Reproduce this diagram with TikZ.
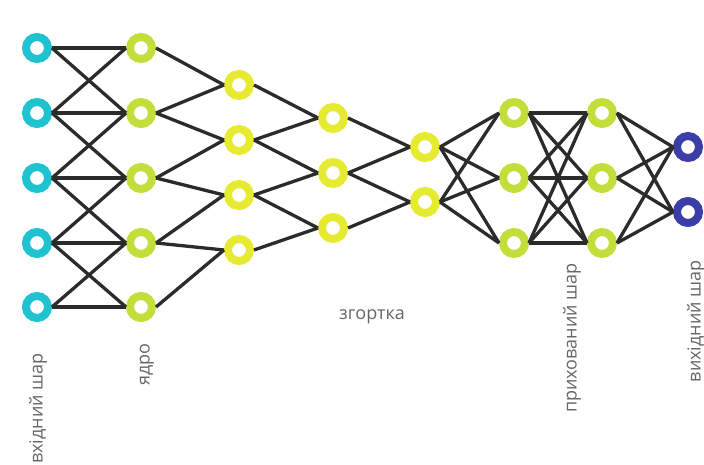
\documentclass[tikz,border=0pt]{standalone}
\usepackage{fontspec}
\setmainfont{Open Sans}
\definecolor{cyanc}{HTML}{1EC3CF}
\definecolor{limec}{HTML}{C3DE3A}
\definecolor{yelc}{HTML}{E6EA30}
\definecolor{bluec}{HTML}{3D3DA8}
\definecolor{linkc}{HTML}{2B2B2B}
\definecolor{lblc}{HTML}{666666}
\begin{document}
\begin{tikzpicture}[x=1pt,y=-1pt,
  neuron/.style={circle, draw=#1, line width=8pt, minimum size=22pt, inner sep=0pt, fill=white},
  link/.style={draw=linkc, line width=3.3pt},
  lbl/.style={font=\fontsize{18}{20}\selectfont, text=lblc, inner sep=0pt}]
\useasboundingbox (0,0) rectangle (704,465);
% layer 1 (input)
\foreach \i/\y in {1/48,2/113,3/178,4/243,5/307} {
  \node[neuron=cyanc] (a\i) at (37,\y) {};
  \node[neuron=limec] (b\i) at (141,\y) {};
}
\foreach \i/\y in {1/85,2/140,3/195,4/250}
  \node[neuron=yelc] (c\i) at (239,\y) {};
\foreach \i/\y in {1/118,2/173,3/228}
  \node[neuron=yelc] (d\i) at (333,\y) {};
\foreach \i/\y in {1/147,2/202}
  \node[neuron=yelc] (e\i) at (425,\y) {};
\foreach \i/\y in {1/113,2/178,3/243} {
  \node[neuron=limec] (f\i) at (514,\y) {};
  \node[neuron=limec] (g\i) at (602,\y) {};
}
\foreach \i/\y in {1/147,2/212}
  \node[neuron=bluec] (h\i) at (688,\y) {};
% input -> kernel
\foreach \i/\j in {1/1,1/2,2/1,2/2,2/3,3/2,3/3,3/4,4/3,4/4,4/5,5/4,5/5}
  \draw[link] (a\i.east) -- (b\j.west);
% kernel -> convolution
\foreach \i/\j in {1/1,2/1,2/2,3/2,3/3,4/3,4/4,5/4}
  \draw[link] (b\i.east) -- (c\j.west);
\foreach \i/\j in {1/1,2/1,2/2,3/2,3/3,4/3}
  \draw[link] (c\i.east) -- (d\j.west);
\foreach \i/\j in {1/1,2/1,2/2,3/2}
  \draw[link] (d\i.east) -- (e\j.west);
\foreach \i in {1,2} \foreach \j in {1,2,3}
  \draw[link] (e\i.east) -- (f\j.west);
\foreach \i in {1,2,3} \foreach \j in {1,2,3}
  \draw[link] (f\i.east) -- (g\j.west);
\foreach \i in {1,2,3} \foreach \j in {1,2}
  \draw[link] (g\i.east) -- (h\j.west);
% labels
\node[lbl, rotate=90, anchor=east] (t1) at (38,353) {вхідний шар};
\node[lbl, rotate=90, anchor=east] (t2) at (147,343) {ядро};
\node[lbl] (t3) at (372,317) {згортка};
\node[lbl, rotate=90, anchor=east] (t4) at (572,263) {прихований шар};
\node[lbl, rotate=90, anchor=east] (t5) at (696,260) {вихідний шар};
\end{tikzpicture}
\end{document}
